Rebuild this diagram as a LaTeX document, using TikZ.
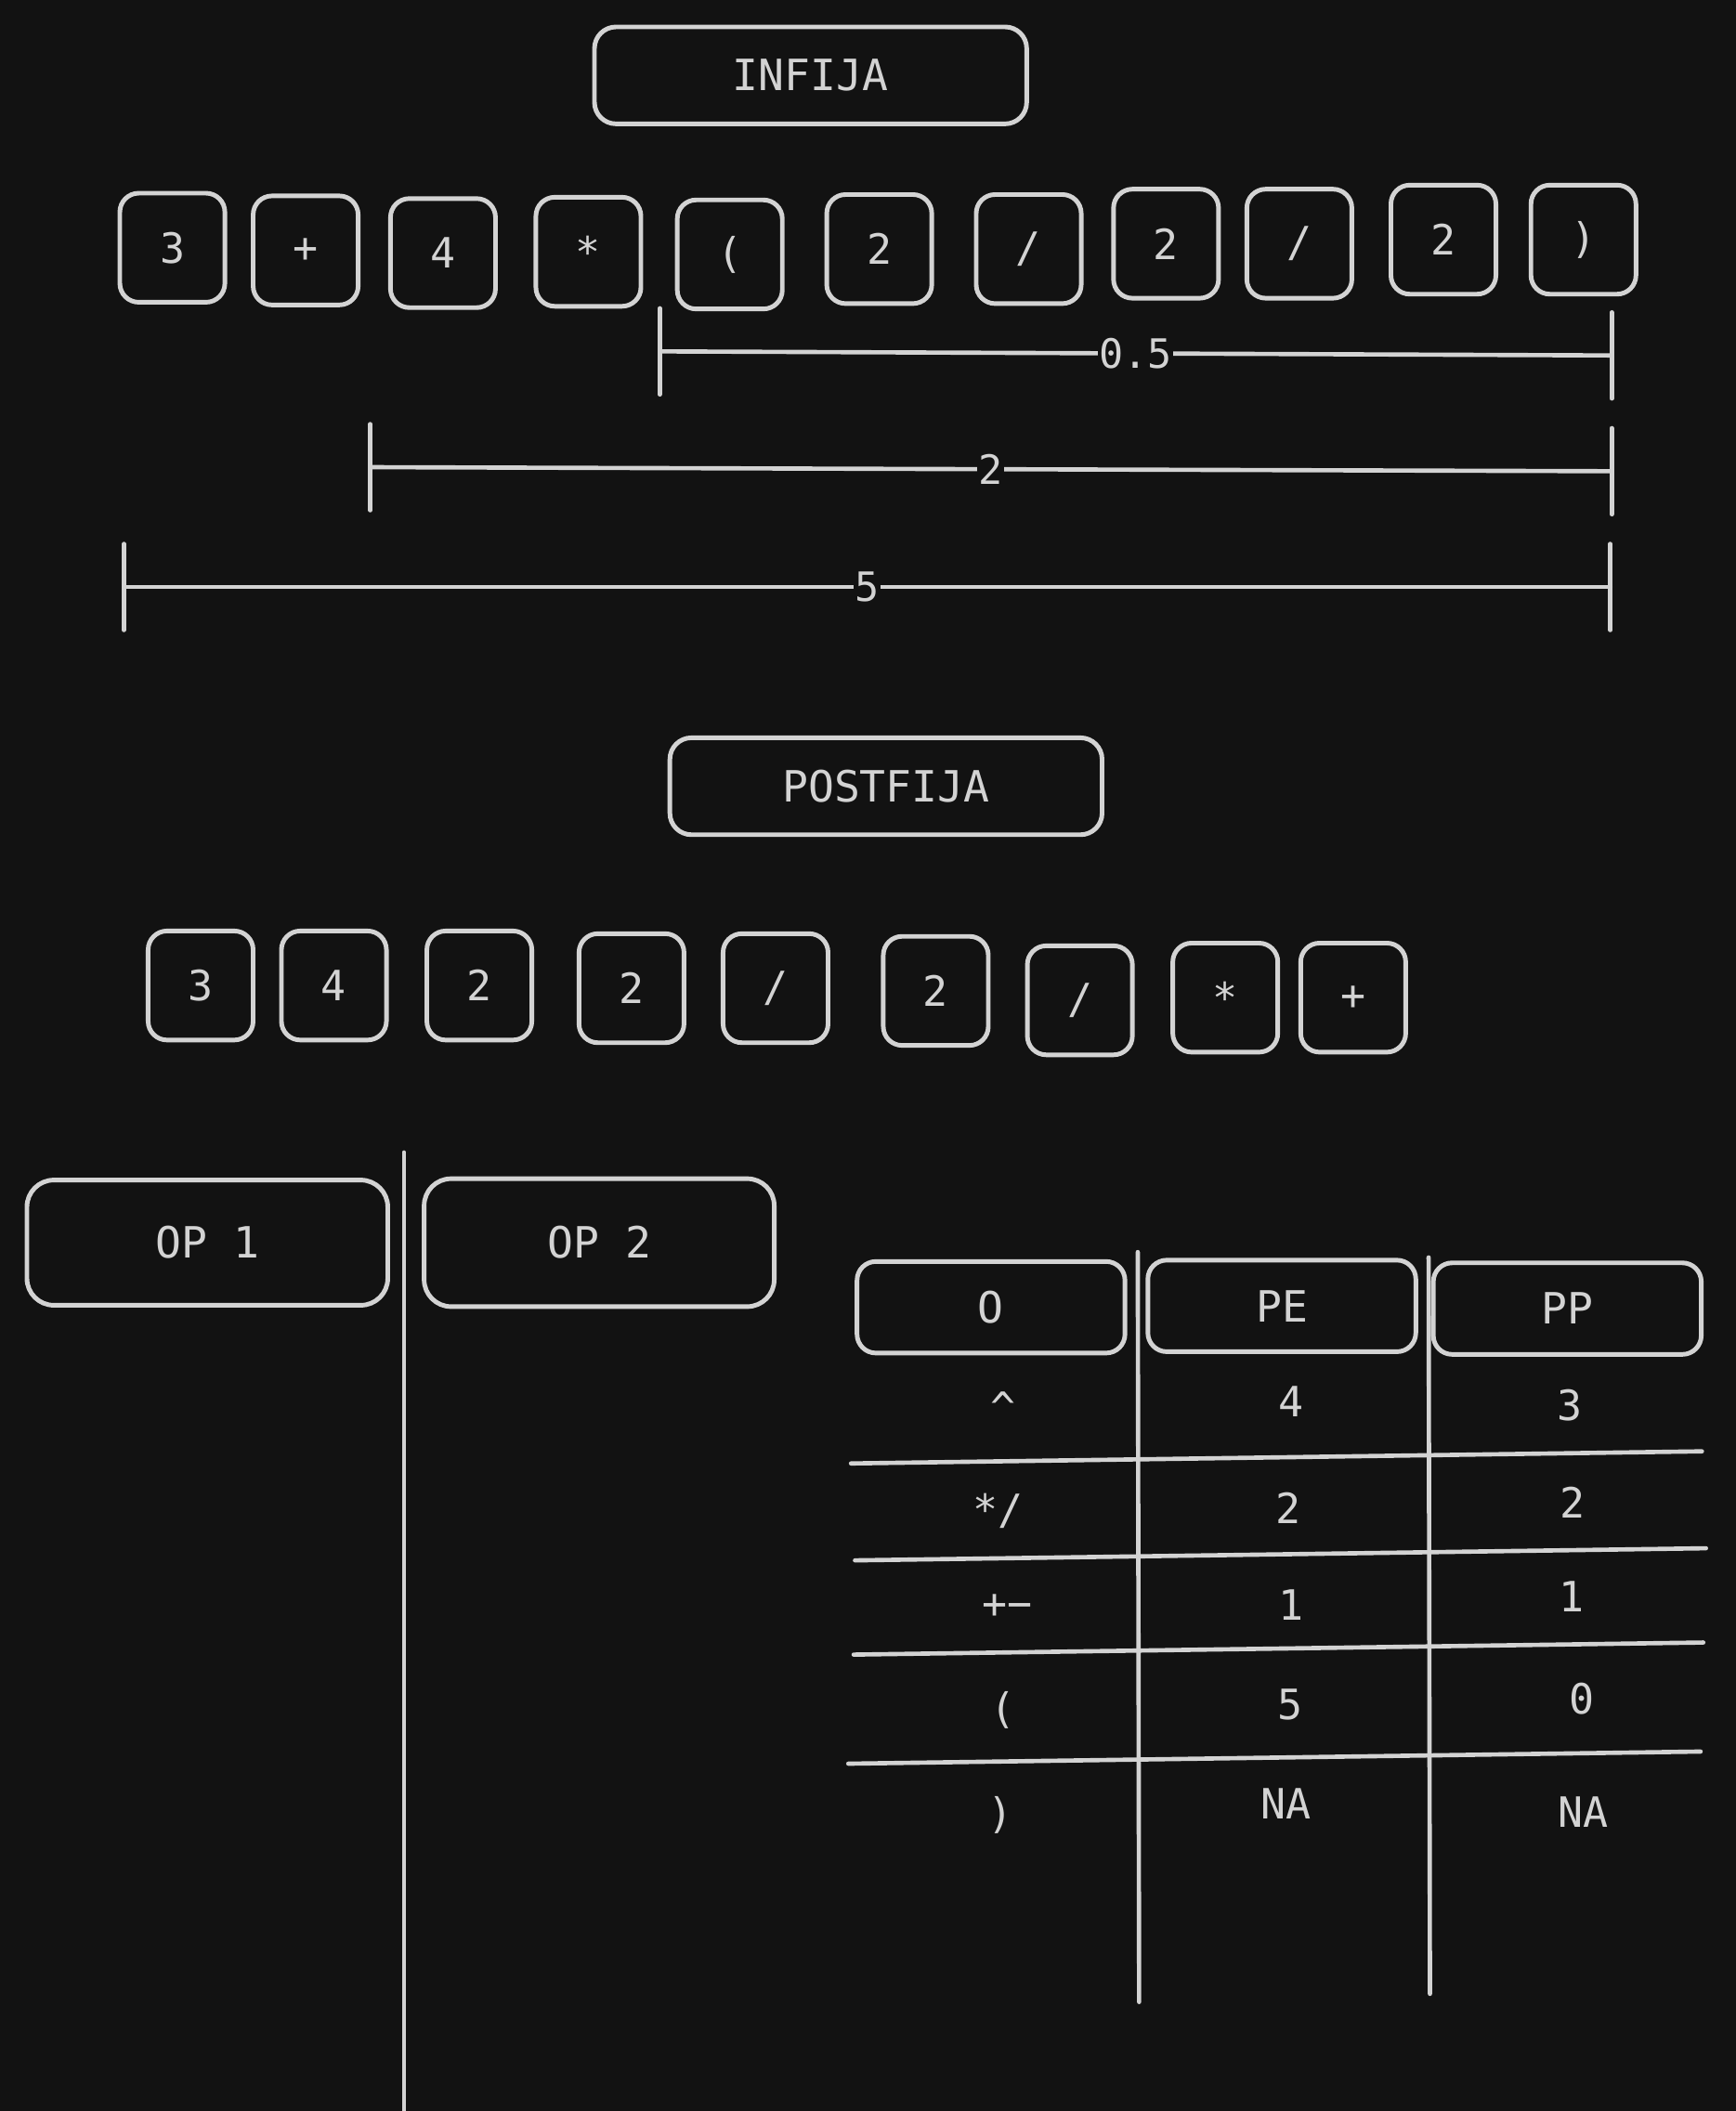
\documentclass[tikz,border=0pt]{standalone}
\usepackage{fontspec}
\setmainfont{DejaVu Sans Mono}
\usetikzlibrary{positioning,calc}
\definecolor{bg}{HTML}{121212}
\definecolor{ink}{HTML}{D3D3D3}
\tikzset{
  tok/.style={draw=ink, line width=3.4pt, rounded corners=14pt, text=ink,
    font=\fontsize{31}{36}\selectfont, minimum width=78pt, minimum height=81pt, inner sep=0pt},
  titlebox/.style={draw=ink, line width=3.4pt, rounded corners=16pt, text=ink,
    font=\fontsize{32}{38}\selectfont, inner sep=0pt},
  rule/.style={draw=ink, line width=3.2pt, line cap=round},
  cell/.style={text=ink, font=\fontsize{31}{36}\selectfont, inner sep=0pt},
  dimlabel/.style={fill=bg, text=ink, inner sep=1pt, font=\fontsize{30}{36}\selectfont}
}
\begin{document}
\begin{tikzpicture}[x=1pt,y=-1pt]
  \fill[bg] (0,0) rectangle (1289,1568);
  \useasboundingbox (0,0) rectangle (1289,1568);
  % titles
  \node[titlebox, minimum width=321pt, minimum height=72pt] (infija) at (602,56) {INFIJA};
  \node[titlebox, minimum width=321pt, minimum height=72pt] (postfija) at (658,584) {POSTFIJA};
  % infix expression
  \foreach \n/\x/\y/\t in {i1/128/184/3, i2/227/186/+, i3/329/188/4, i4/437/187/*,
      i5/542/189/{(}, i6/653/185/2, i7/764/185/{/}, i8/866/181/2, i9/965/181/{/},
      i10/1072/178/2, i11/1176/178/{)}}
    \node[tok] (\n) at (\x,\y) {\t};
  % sub-expression spans
  \coordinate (s1a) at (490,261); \coordinate (s1b) at (1197,264);
  \coordinate (s2a) at (275,347); \coordinate (s2b) at (1197,350);
  \coordinate (s3a) at (92,436);  \coordinate (s3b) at (1196,436);
  \foreach \c in {s1a,s1b,s2a,s2b,s3a,s3b}
    \draw[rule] ($(\c)+(0,-32)$) -- ($(\c)+(0,32)$);
  \draw[rule] (s1a) -- node[dimlabel] {0.5} (s1b);
  \draw[rule] (s2a) -- node[dimlabel] {2} (s2b);
  \draw[rule] (s3a) -- node[dimlabel] {5} (s3b);
  % postfix expression
  \foreach \n/\x/\y/\t in {p1/149/732/3, p2/248/732/4, p3/356/732/2, p4/469/734/2,
      p5/576/734/{/}, p6/695/736/2, p7/802/743/{/}, p8/910/741/*, p9/1005/741/+}
    \node[tok] (\n) at (\x,\y) {\t};
  % operand stacks
  \node[titlebox, minimum width=268pt, minimum height=93pt, rounded corners=20pt] (op1) at (154,923) {OP 1};
  \node[titlebox, minimum width=260pt, minimum height=95pt, rounded corners=20pt] (op2) at (445,923) {OP 2};
  \draw[rule] (300,856) -- (300,1568);
  % precedence table
  \node[titlebox, minimum width=199pt, minimum height=68pt, rounded corners=14pt] (ho) at (736,971) {O};
  \node[titlebox, minimum width=199pt, minimum height=68pt, rounded corners=14pt] (hpe) at (952,970) {PE};
  \node[titlebox, minimum width=199pt, minimum height=68pt, rounded corners=14pt] (hpp) at (1164,972) {PP};
  \draw[rule] (845,930) -- (846,1487);
  \draw[rule] (1061,934) -- (1062,1481);
  \draw[rule] (632,1087) -- (1264,1078);
  \draw[rule] (635,1159) -- (1267,1150);
  \draw[rule] (634,1229) -- (1265,1220);
  \draw[rule] (630,1310) -- (1263,1301);
  \foreach \n/\x/\y/\t in {o1/745/1045/\textasciicircum, e1/959/1041/4, q1/1166/1044/3,
      o2/741/1122/*{/}, e2/957/1120/2, q2/1168/1116/2,
      o3/748/1193/+−, e3/959/1192/1, q3/1167/1186/1,
      o4/745/1270/{(}, e4/958/1266/5, q4/1175/1262/0,
      o5/743/1348/{)}, e5/955/1340/NA, q5/1176/1346/NA}
    \node[cell] (\n) at (\x,\y) {\t};
\end{tikzpicture}
\end{document}
